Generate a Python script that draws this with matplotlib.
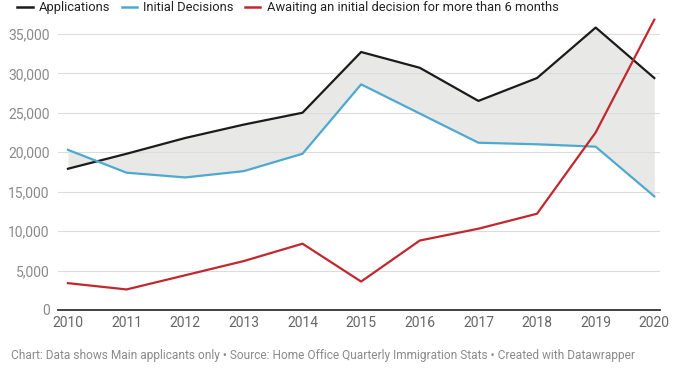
import matplotlib
matplotlib.use("Agg")
import matplotlib.pyplot as plt
from matplotlib.ticker import FuncFormatter
from matplotlib.lines import Line2D

plt.rcParams['font.family'] = ['Roboto', 'DejaVu Sans']

years = [2010, 2011, 2012, 2013, 2014, 2015, 2016, 2017, 2018, 2019, 2020]
applications = [17900, 19800, 21800, 23500, 25000, 32700, 30700, 26500, 29400, 35800, 29400]
decisions = [20300, 17400, 16800, 17600, 19800, 28600, 24900, 21200, 21000, 20700, 14400]
awaiting = [3400, 2600, 4400, 6200, 8400, 3600, 8800, 10300, 12200, 22500, 36800]

c_app = "#1b1b1b"
c_dec = "#4fa9cf"
c_wait = "#c1282e"

fig = plt.figure(figsize=(6.82, 3.69), dpi=100)
ax = fig.add_axes([0.085, 0.160, 0.883, 0.791])

ax.fill_between(years, applications, decisions, color="#e8e8e6", lw=0, zorder=1)
ax.plot(years, applications, color=c_app, lw=1.6, zorder=3)
ax.plot(years, decisions, color=c_dec, lw=1.6, zorder=3)
ax.plot(years, awaiting, color=c_wait, lw=1.6, zorder=4)

ax.set_xlim(2009.83, 2020.1)
ax.set_ylim(0, 37000)
ax.set_yticks(range(0, 35001, 5000))
ax.set_xticks(years)
ax.yaxis.set_major_formatter(FuncFormatter(lambda v, p: f"{int(v):,}"))
ax.grid(axis="y", color="#dcdcdc", lw=0.8, zorder=0)
for s in ["top", "right", "left"]:
    ax.spines[s].set_visible(False)
ax.spines["bottom"].set_color("#333333")
ax.spines["bottom"].set_linewidth(1.3)
ax.spines["bottom"].set_zorder(5)
ax.tick_params(axis="y", length=0, pad=6, labelsize=10, labelcolor="#8a8a8a")
ax.tick_params(axis="x", length=0, pad=4, labelsize=10, labelcolor="#666666")

handles = [
    Line2D([0], [0], color=c_app, lw=1.8, label="Applications"),
    Line2D([0], [0], color=c_dec, lw=1.8, label="Initial Decisions"),
    Line2D([0], [0], color=c_wait, lw=1.8, label="Awaiting an initial decision for more than 6 months"),
]
fig.legend(handles=handles, loc="upper left", bbox_to_anchor=(0.008, 1.028), ncol=3,
           frameon=False, fontsize=9.3, handlelength=1.2, handletextpad=0.5,
           columnspacing=0.85, labelcolor="#222222")

fig.text(0.016, 0.018, "Chart: Data shows Main applicants only \u2022 Source: Home Office Quarterly Immigration Stats \u2022 Created with Datawrapper",
         fontsize=8.6, color="#8a8a8a", ha="left", va="bottom")

fig.savefig("out.png", dpi=100)
